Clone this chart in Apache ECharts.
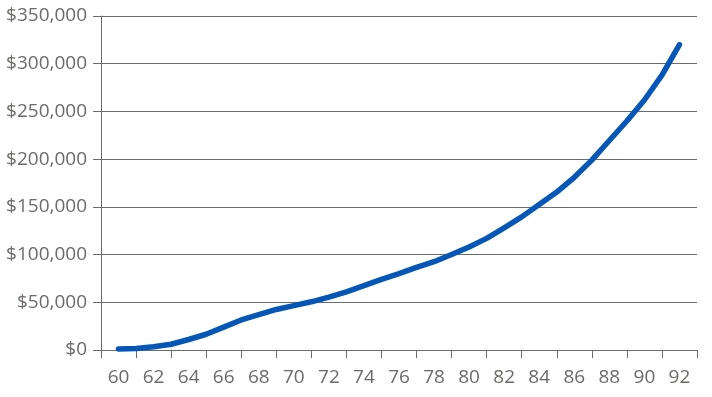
<!DOCTYPE html>
<html>
<head>
<meta charset="utf-8">
<script src="https://cdn.jsdelivr.net/npm/echarts@6/dist/echarts.min.js"></script>
<style>
html,body{margin:0;padding:0;background:#fff;}
#chart{width:712px;height:397px;}
</style>
</head>
<body>
<div id="chart"></div>
<script>
var ages = [60,61,62,63,64,65,66,67,68,69,70,71,72,73,74,75,76,77,78,79,80,81,82,83,84,85,86,87,88,89,90,91,92];
var values = [1000,1500,3500,6000,11000,16500,24000,31500,37000,42500,46500,50500,55500,61000,67500,74000,80000,86500,92500,100000,108000,117000,128000,139500,152500,165500,181000,199000,219500,240000,262000,288000,320000];
var xTickLabels = [60,62,64,66,68,70,72,74,76,78,80,82,84,86,88,90,92];
var xTickMarks = [59,61,63,65,67,69,71,73,75,77,79,81,83,85,87,89,91,93];

var chart = echarts.init(document.getElementById('chart'));
var axisColor = '#6b6b6b';
var textColor = '#6e6a69';
var font = '"Open Sans", "Noto Sans", sans-serif';
chart.setOption({
  animation: false,
  grid: {left: 101, right: 15, top: 16, bottom: 47},
  xAxis: {
    type: 'value', min: 59, max: 93,
    axisLine: {show: true, lineStyle: {color: axisColor, width: 1}},
    axisTick: {show: true, length: 8, customValues: xTickMarks, lineStyle: {color: axisColor}},
    axisLabel: {customValues: xTickLabels, color: textColor, fontSize: 19, fontFamily: font, margin: 18},
    splitLine: {show: false}
  },
  yAxis: {
    type: 'value', min: 0, max: 350000, interval: 50000,
    axisLine: {show: true, lineStyle: {color: axisColor, width: 1}},
    axisTick: {show: true, length: 8, lineStyle: {color: axisColor}},
    axisLabel: {color: textColor, fontSize: 19, fontFamily: font, margin: 14,
      formatter: function(v){ return '$' + v.toLocaleString('en-US'); }},
    splitLine: {show: true, lineStyle: {color: axisColor, width: 1}}
  },
  series: [{
    type: 'line',
    data: ages.map(function(a, i){ return [a, values[i]]; }),
    showSymbol: false,
    symbol: 'none',
    lineStyle: {color: '#0457b6', width: 5.5, cap: 'round', join: 'round'},
    z: 5
  }]
});
</script>
</body>
</html>
